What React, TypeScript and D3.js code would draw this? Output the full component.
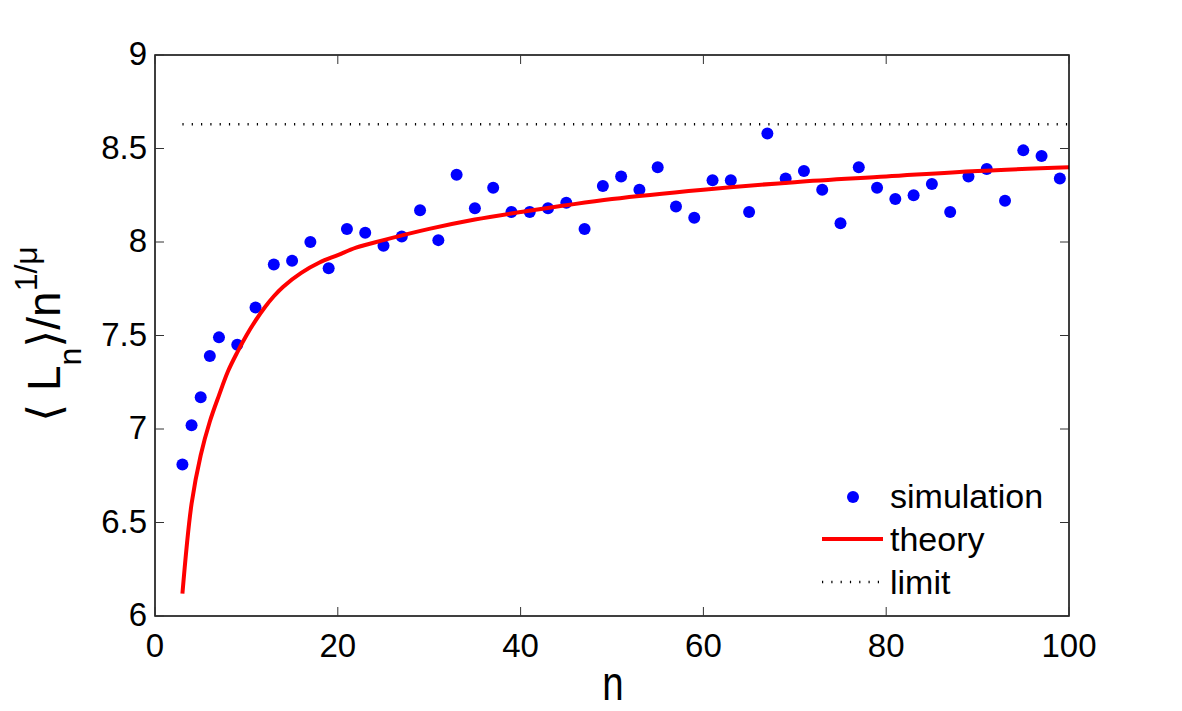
import React from 'react'
import * as d3 from 'd3'

// simulation points
const simN = [3, 4, 5, 6, 7, 9, 11, 13, 15, 17, 19, 21, 23, 25, 27, 29, 31, 33, 35, 37, 39, 41, 43, 45, 47, 49, 51, 53, 55, 57, 59, 61, 63, 65, 67, 69, 71, 73, 75, 77, 79, 81, 83, 85, 87, 89, 91, 93, 95, 97, 99]
const simVal = [6.81, 7.02, 7.17, 7.39, 7.49, 7.45, 7.65, 7.88, 7.9, 8.0, 7.86, 8.07, 8.05, 7.98, 8.03, 8.17, 8.01, 8.36, 8.18, 8.29, 8.16, 8.16, 8.18, 8.21, 8.07, 8.3, 8.35, 8.28, 8.4, 8.19, 8.13, 8.33, 8.33, 8.16, 8.58, 8.34, 8.38, 8.28, 8.1, 8.4, 8.29, 8.23, 8.25, 8.31, 8.16, 8.35, 8.39, 8.22, 8.49, 8.46, 8.34]

// theory curve samples
const theoryN = [3, 4, 5, 6, 7, 8, 9, 10, 11, 12, 13, 14, 16, 18, 20, 22, 25, 30, 35, 40, 50, 60, 70, 80, 90, 100]
const theoryVal = [6.12, 6.6, 6.86, 7.04, 7.18, 7.31, 7.41, 7.5, 7.58, 7.65, 7.71, 7.76, 7.835, 7.89, 7.93, 7.97, 8.01, 8.07, 8.12, 8.16, 8.23, 8.28, 8.32, 8.35, 8.38, 8.4]

const limitN = [3, 100]
const limitVal = [8.63, 8.63]

const xTicks = [0, 20, 40, 60, 80, 100]
const yTicks = [6, 6.5, 7, 7.5, 8, 8.5, 9]

const W = 1182
const H = 711
const left = 155
const right = 1069
const top = 55
const bottom = 616
const font = 'Liberation Sans, Arial, Helvetica, sans-serif'

const App = () => {
  const x = d3.scaleLinear().domain([0, 100]).range([left, right])
  const y = d3.scaleLinear().domain([6, 9]).range([bottom, top])

  const theory = theoryN.map((n, i) => [n, theoryVal[i]] as [number, number])
  const limit = limitN.map((n, i) => [n, limitVal[i]] as [number, number])
  const line = d3
    .line<[number, number]>()
    .x(d => x(d[0]))
    .y(d => y(d[1]))
    .curve(d3.curveCatmullRom.alpha(0.5))
  const tickLen = 9

  return (
    <svg
      width={W}
      height={H}
      style={{ position: 'absolute', left: 0, top: 0, background: '#fff' }}
      fontFamily={font}
    >
      <rect x={0} y={0} width={W} height={H} fill="#fff" />
      <path
        d={line(limit) || ''}
        fill="none"
        stroke="#000"
        strokeWidth={2.5}
        strokeDasharray="1.2,8.1"
      />
      {simN.map((n, i) => (
        <circle key={n} cx={x(n)} cy={y(simVal[i])} r={6} fill="#0000ff" />
      ))}
      <path d={line(theory) || ''} fill="none" stroke="#ff0000" strokeWidth={4} />

      {/* box */}
      <rect
        x={left}
        y={top}
        width={right - left}
        height={bottom - top}
        fill="none"
        stroke="#000"
        strokeWidth={1.5}
      />
      {xTicks.map(t => (
        <g key={'x' + t}>
          <line x1={x(t)} x2={x(t)} y1={bottom} y2={bottom - tickLen} stroke="#333" strokeWidth={1} />
          <line x1={x(t)} x2={x(t)} y1={top} y2={top + tickLen} stroke="#333" strokeWidth={1} />
          <text x={x(t)} y={657} textAnchor="middle" fontSize={33}>
            {t}
          </text>
        </g>
      ))}
      {yTicks.map(t => (
        <g key={'y' + t}>
          <line x1={left} x2={left + tickLen} y1={y(t)} y2={y(t)} stroke="#333" strokeWidth={1} />
          <line x1={right} x2={right - tickLen} y1={y(t)} y2={y(t)} stroke="#333" strokeWidth={1} />
          <text x={left - 8} y={y(t) + 10} textAnchor="end" fontSize={33}>
            {t}
          </text>
        </g>
      ))}

      {/* axis labels */}
      <text transform="translate(613 700) scale(0.8 1)" textAnchor="middle" fontSize={48}>
        n
      </text>
      <text transform="translate(60 334) rotate(-90)" textAnchor="middle" fontSize={46}>
        <tspan fontFamily="DejaVu Sans">⟨</tspan> L
        <tspan fontSize={32} dy={21}>n</tspan>
        <tspan dy={-21} fontFamily="DejaVu Sans">⟩</tspan>/n
        <tspan fontSize={32} dy={-23}>1/μ</tspan>
      </text>

      {/* legend */}
      <g fontSize={34}>
        <circle cx={853} cy={497} r={6} fill="#0000ff" />
        <text x={890} y={508}>simulation</text>
        <line x1={822} x2={883} y1={539} y2={539} stroke="#ff0000" strokeWidth={4} />
        <text x={890} y={551}>theory</text>
        <line
          x1={822}
          x2={882}
          y1={582}
          y2={582}
          stroke="#000"
          strokeWidth={2.5}
          strokeDasharray="1.2,8.1"
        />
        <text x={890} y={594}>limit</text>
      </g>
    </svg>
  )
}

export default App
